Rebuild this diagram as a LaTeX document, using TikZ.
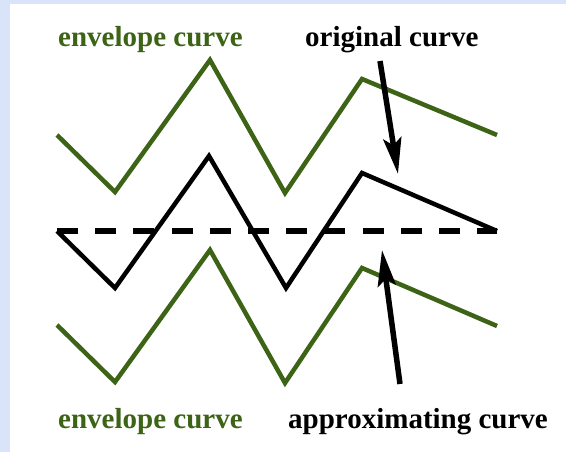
\documentclass[tikz,border=0pt]{standalone}
\usepackage{fontspec}
\setmainfont{Liberation Serif}
\usetikzlibrary{arrows.meta}
\definecolor{envgreen}{HTML}{3D6416}
\definecolor{frameblue}{HTML}{D9E3FA}
\tikzset{
  curvelabel/.style={anchor=base west,inner sep=0pt,font=\fontsize{29}{32}\selectfont\bfseries},
  envcurve/.style={draw=envgreen,line width=4.5pt},
  origcurve/.style={draw=black,line width=4.5pt},
  approxcurve/.style={draw=black,line width=5.5pt,dash pattern=on 21pt off 17.2pt},
  pointer/.style={-{Stealth[length=36pt,width=18pt,inset=7pt]},line width=5.5pt,draw=black}
}
\begin{document}
\begin{tikzpicture}[x=1pt,y=-1pt]
  % frame
  \fill[frameblue] (0,0) rectangle (566,452);
  \fill[white] (10,4) rectangle (566,452);
  \useasboundingbox (0,0) rectangle (566,452);

  % labels
  \node[curvelabel,text=envgreen] (envtop) at (58,47) {envelope curve};
  \node[curvelabel] (orig) at (305,47) {original curve};
  \node[curvelabel,text=envgreen] (envbot) at (58,428) {envelope curve};
  \node[curvelabel] (approx) at (288,428) {approximating curve};

  % curves
  \draw[envcurve] (57,135) -- (115,192) -- (210,60) -- (285,193) -- (362,79) -- (497,135);
  \draw[approxcurve] (57,231) -- (497,231);
  \draw[origcurve] (57,231) -- (115,288) -- (209,156) -- (286,288) -- (362,173) -- (497,231);
  \draw[envcurve] (57,325) -- (115,382) -- (210,250) -- (285,383) -- (362,268) -- (497,326);

  % pointers
  \coordinate (origtail) at (380,61);
  \coordinate (origtip) at (398,174);
  \coordinate (approxtail) at (400,384);
  \coordinate (approxtip) at (382,250);
  \draw[pointer] (origtail) -- (origtip);
  \draw[pointer] (approxtail) -- (approxtip);
\end{tikzpicture}
\end{document}
